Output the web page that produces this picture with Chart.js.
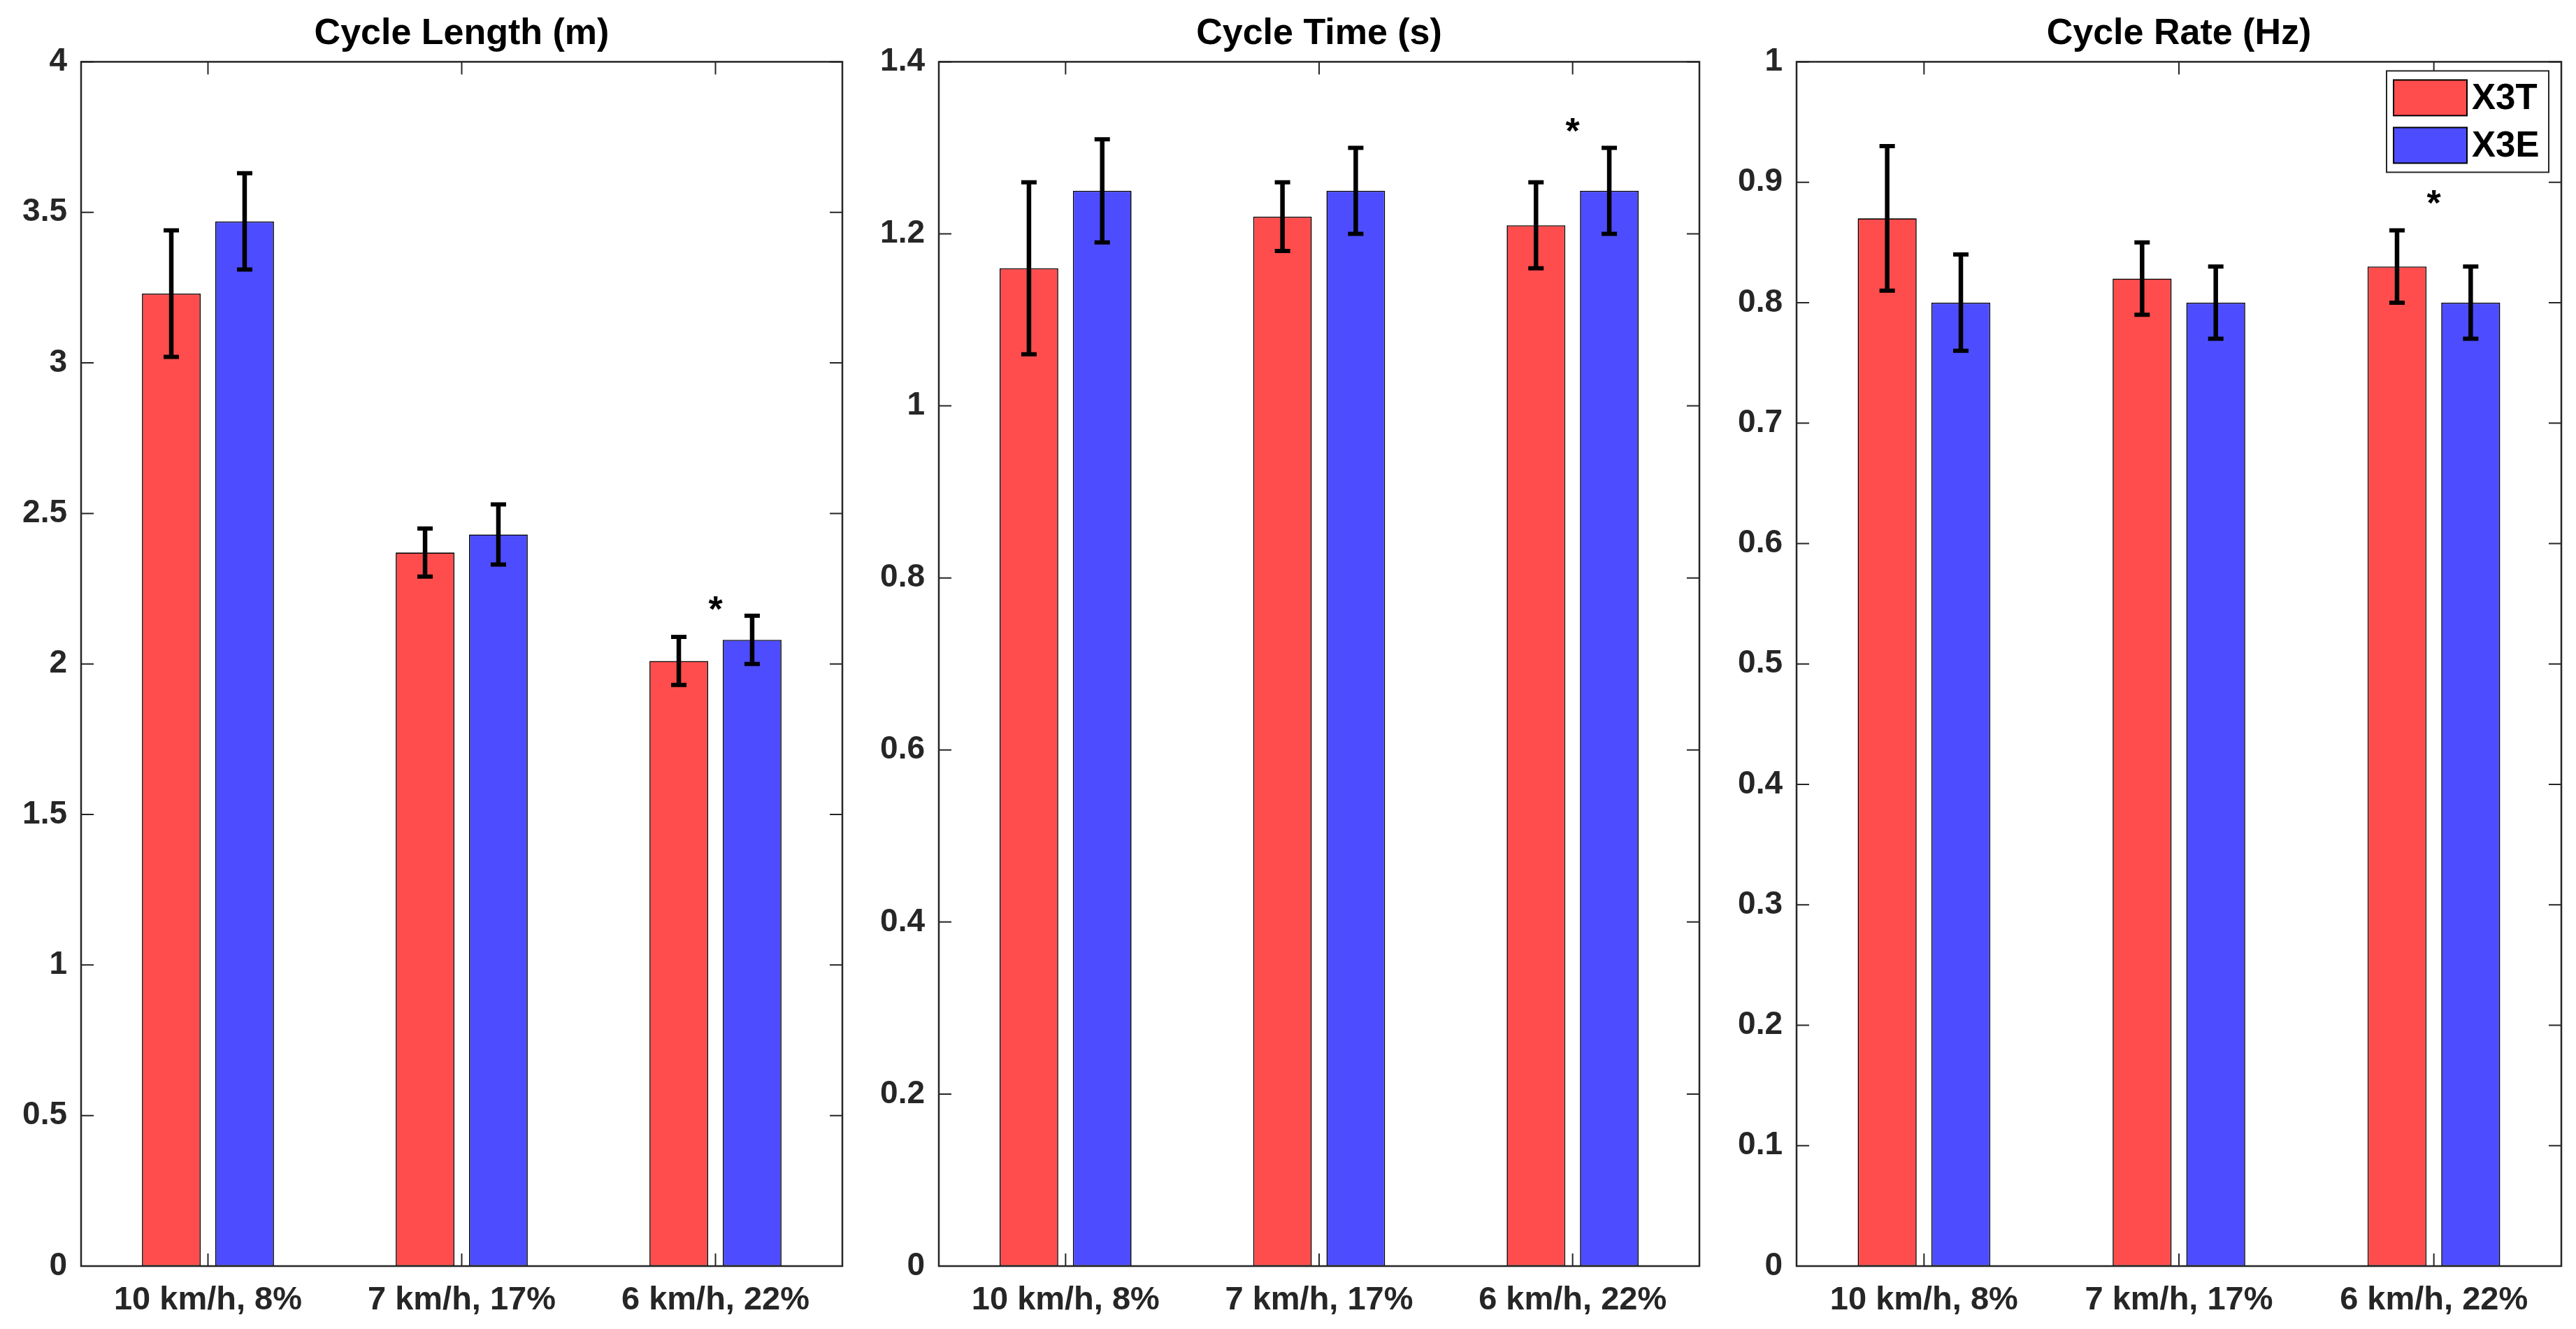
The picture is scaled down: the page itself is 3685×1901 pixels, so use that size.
<!DOCTYPE html>
<html>
<head>
<meta charset="utf-8">
<script src="https://cdn.jsdelivr.net/npm/chart.js@4"></script>
<style>
    body { margin: 0; background: #fff; }
    #wrap { position: relative; width: 3685px; height: 1901px; background: #fff; }
    canvas { position: absolute; top: 0; }
</style>
</head>
<body>
<div id="wrap">
    <canvas id="c1" width="1215" height="1901" style="left:0px"></canvas>
    <canvas id="c2" width="1214" height="1901" style="left:1227px"></canvas>
    <canvas id="c3" width="1220" height="1901" style="left:2454px"></canvas>
</div>
<script>
// categories and series
const categories = ['10 km/h, 8%', '7 km/h, 17%', '6 km/h, 22%'];
const seriesNames = ['X3T', 'X3E'];
const seriesColors = ['rgb(255,77,77)', 'rgb(77,77,255)'];

// Cycle length (m)
const lengthX3T = [3.23, 2.37, 2.01];
const lengthX3E = [3.47, 2.43, 2.08];
const lengthSdX3T = [0.21, 0.08, 0.08];
const lengthSdX3E = [0.16, 0.10, 0.08];
const lengthTicks = [0, 0.5, 1, 1.5, 2, 2.5, 3, 3.5, 4];
const lengthTickLabels = ['0', '0.5', '1', '1.5', '2', '2.5', '3', '3.5', '4'];

// Cycle time (s)
const timeX3T = [1.16, 1.22, 1.21];
const timeX3E = [1.25, 1.25, 1.25];
const timeSdX3T = [0.10, 0.04, 0.05];
const timeSdX3E = [0.06, 0.05, 0.05];
const timeTicks = [0, 0.2, 0.4, 0.6, 0.8, 1, 1.2, 1.4];
const timeTickLabels = ['0', '0.2', '0.4', '0.6', '0.8', '1', '1.2', '1.4'];

// Cycle rate (Hz)
const rateX3T = [0.87, 0.82, 0.83];
const rateX3E = [0.80, 0.80, 0.80];
const rateSdX3T = [0.06, 0.03, 0.03];
const rateSdX3E = [0.04, 0.03, 0.03];
const rateTicks = [0, 0.1, 0.2, 0.3, 0.4, 0.5, 0.6, 0.7, 0.8, 0.9, 1];
const rateTickLabels = ['0', '0.1', '0.2', '0.3', '0.4', '0.5', '0.6', '0.7', '0.8', '0.9', '1'];

// significance markers (category index, value of the asterisk centre)
const starIndex = [2, 2, 2];
const starValue = [2.21, 1.33, 0.89];

const FONT = '"Liberation Sans", Arial, sans-serif';
const AXIS_COLOR = '#262626';

// error bars drawn through the bar elements and the y scale
const errorBarPlugin = {
    id: 'errorBars',
    afterDatasetsDraw(chart) {
        const ctx = chart.ctx;
        const yScale = chart.scales.y;
        ctx.save();
        ctx.strokeStyle = '#000';
        ctx.lineCap = 'butt';
        chart.data.datasets.forEach((ds, i) => {
            const meta = chart.getDatasetMeta(i);
            meta.data.forEach((bar, j) => {
                const v = ds.data[j];
                const sd = ds.sd[j];
                const yTop = yScale.getPixelForValue(v + sd);
                const yBot = yScale.getPixelForValue(v - sd);
                ctx.lineWidth = 6.5;
                ctx.beginPath();
                ctx.moveTo(bar.x, yTop);
                ctx.lineTo(bar.x, yBot);
                ctx.stroke();
                ctx.lineWidth = 6;
                ctx.beginPath();
                ctx.moveTo(bar.x - 11, yTop);
                ctx.lineTo(bar.x + 11, yTop);
                ctx.moveTo(bar.x - 11, yBot);
                ctx.lineTo(bar.x + 11, yBot);
                ctx.stroke();
            });
        });
        ctx.restore();
    }
};

// MATLAB-like box with inward ticks, the significance asterisk and the legend
const boxPlugin = {
    id: 'boxTicks',
    afterDraw(chart, args, opts) {
        const ctx = chart.ctx;
        const a = chart.chartArea;
        const xs = chart.scales.x;
        const ys = chart.scales.y;
        ctx.save();
        ctx.strokeStyle = AXIS_COLOR;
        ctx.lineWidth = 2.5;
        ctx.strokeRect(a.left, a.top, a.right - a.left, a.bottom - a.top);
        ctx.lineWidth = 2;
        ctx.beginPath();
        ys.ticks.forEach(t => {
            const y = ys.getPixelForValue(t.value);
            ctx.moveTo(a.left, y); ctx.lineTo(a.left + 18, y);
            ctx.moveTo(a.right, y); ctx.lineTo(a.right - 18, y);
        });
        categories.forEach((c, i) => {
            const x = xs.getPixelForValue(i);
            ctx.moveTo(x, a.top); ctx.lineTo(x, a.top + 18);
            ctx.moveTo(x, a.bottom); ctx.lineTo(x, a.bottom - 18);
        });
        ctx.stroke();

        // asterisk
        const sx = xs.getPixelForValue(opts.starIndex);
        const sy = ys.getPixelForValue(opts.starValue);
        ctx.fillStyle = '#000';
        ctx.font = 'bold 52px ' + FONT;
        ctx.textAlign = 'center';
        ctx.textBaseline = 'alphabetic';
        ctx.fillText('*', sx, sy + 30);

        // legend inside the plot
        if (opts.legend) {
            const w = 232, h = 145;
            const lx = a.right - 18 - w;
            const ly = a.top + 13;
            ctx.fillStyle = '#fff';
            ctx.fillRect(lx, ly, w, h);
            ctx.lineWidth = 2;
            ctx.strokeStyle = AXIS_COLOR;
            ctx.strokeRect(lx, ly, w, h);
            ctx.font = 'bold 51px ' + FONT;
            ctx.textAlign = 'left';
            ctx.textBaseline = 'middle';
            chart.data.datasets.forEach((ds, i) => {
                const ry = ly + 13 + i * 68;
                ctx.fillStyle = ds.backgroundColor;
                ctx.fillRect(lx + 10, ry, 105, 51);
                ctx.lineWidth = 2;
                ctx.strokeStyle = '#000';
                ctx.strokeRect(lx + 10, ry, 105, 51);
                ctx.fillStyle = '#000';
                ctx.fillText(ds.label, lx + 122, ry + 28);
            });
        }
        ctx.restore();
    }
};

function makePanel(id, title, vT, vE, sdT, sdE, ticks, tickLabels, panel, legend) {
    const ctx = document.getElementById(id).getContext('2d');
    return new Chart(ctx, {
        type: 'bar',
        data: {
            labels: categories,
            datasets: [
                { label: seriesNames[0], data: vT, sd: sdT, backgroundColor: seriesColors[0],
                  borderColor: '#000', borderWidth: 1.6, borderSkipped: false },
                { label: seriesNames[1], data: vE, sd: sdE, backgroundColor: seriesColors[1],
                  borderColor: '#000', borderWidth: 1.6, borderSkipped: false }
            ]
        },
        options: {
            responsive: false,
            animation: false,
            devicePixelRatio: 1,
            categoryPercentage: 0.578,
            barPercentage: 0.8,
            layout: { padding: { left: 0, right: 10, top: 0, bottom: 0 } },
            plugins: {
                legend: { display: false },
                tooltip: { enabled: false },
                title: {
                    display: true,
                    text: title,
                    fullSize: false,
                    color: '#000',
                    font: { family: FONT, size: 52, weight: 'bold', lineHeight: 1.2 },
                    padding: { top: 17, bottom: 9 }
                },
                boxTicks: { starIndex: starIndex[panel], starValue: starValue[panel], legend: legend }
            },
            scales: {
                x: {
                    grid: { display: false, drawTicks: false },
                    border: { display: false },
                    ticks: {
                        color: AXIS_COLOR,
                        padding: 21,
                        maxRotation: 0,
                        autoSkip: false,
                        font: { family: FONT, size: 47, weight: 'bold', lineHeight: 1.2 }
                    },
                    afterFit(scale) { scale.height = 90; }
                },
                y: {
                    min: ticks[0],
                    max: ticks[ticks.length - 1],
                    grid: { display: false, drawTicks: false },
                    border: { display: false },
                    afterBuildTicks(scale) { scale.ticks = ticks.map(v => ({ value: v })); },
                    ticks: {
                        color: AXIS_COLOR,
                        padding: 20,
                        font: { family: FONT, size: 46, weight: 'bold' },
                        callback: (v, i) => tickLabels[i]
                    },
                    afterFit(scale) { scale.width = 116; }
                }
            }
        },
        plugins: [errorBarPlugin, boxPlugin]
    });
}

makePanel('c1', 'Cycle Length (m)', lengthX3T, lengthX3E, lengthSdX3T, lengthSdX3E, lengthTicks, lengthTickLabels, 0, false);
makePanel('c2', 'Cycle Time (s)', timeX3T, timeX3E, timeSdX3T, timeSdX3E, timeTicks, timeTickLabels, 1, false);
makePanel('c3', 'Cycle Rate (Hz)', rateX3T, rateX3E, rateSdX3T, rateSdX3E, rateTicks, rateTickLabels, 2, true);
</script>
</body>
</html>
